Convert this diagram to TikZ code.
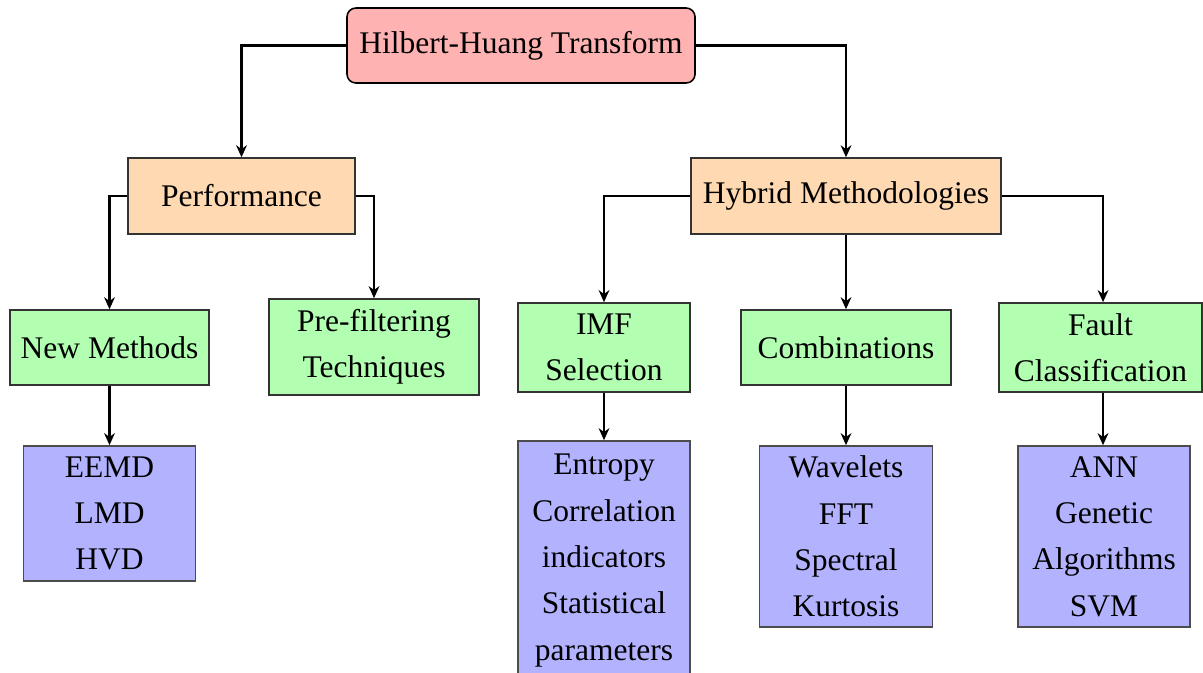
\documentclass[tikz,border=0pt]{standalone}
\usepackage{fontspec}
\setmainfont{Liberation Serif}
\usetikzlibrary{arrows.meta}

\begin{document}
\begin{tikzpicture}[
    x=0.3175pt, y=-0.3175pt,
    every node/.style={font=\fontsize{10}{14.7}\selectfont, inner sep=0pt, align=center},
    box/.style={draw=black!80, line width=0.5pt},
    rootbox/.style={box, draw=black, fill=red!30, rounded corners=2.8pt},
    midbox/.style={box, fill=orange!30},
    leafbox/.style={box, fill=green!30},
    listbox/.style={box, draw=black!70, fill=blue!30},
    link/.style={line width=0.75pt, -{Stealth[length=3.8pt, width=3.4pt, inset=1.2pt]}}
]
\useasboundingbox (0,0) rectangle (1203,672);

% top level
\node[rootbox, minimum width=110.5pt, minimum height=23.8pt] (hht) at (521,45.5) {Hilbert-Huang Transform};

% second level
\node[midbox, minimum width=72.1pt, minimum height=24.1pt] (perf) at (241.5,196) {Performance};
\node[midbox, minimum width=98.4pt, minimum height=24.1pt] (hyb) at (846,196) {Hybrid Methodologies};

% third level
\node[leafbox, minimum width=63.2pt, minimum height=23.8pt] (newm) at (109.5,347.5) {New Methods};
\node[leafbox, minimum width=66.7pt, minimum height=30.5pt] (pre) at (374,347) {Pre-filtering\\Techniques};
\node[leafbox, minimum width=54.6pt, minimum height=28.3pt] (imf) at (604,347.5) {IMF\\Selection};
\node[leafbox, minimum width=66.7pt, minimum height=23.8pt] (comb) at (846,347.5) {Combinations};
\node[leafbox, minimum width=64.5pt, minimum height=28.3pt] (fault) at (1100.5,347.5) {Fault\\Classification};

% lists
\node[listbox, minimum width=54.6pt, minimum height=42.9pt] (emd) at (109.5,513.5) {EEMD\\LMD\\HVD};
\node[listbox, minimum width=54.6pt, minimum height=75.9pt] (ent) at (604,560.5) {Entropy\\Correlation\\indicators\\Statistical\\parameters};
\node[listbox, minimum width=54.9pt, minimum height=57.5pt] (wav) at (846,536.5) {Wavelets\\FFT\\Spectral\\Kurtosis};
\node[listbox, minimum width=54.6pt, minimum height=57.5pt] (ann) at (1104,536.5) {ANN\\Genetic\\Algorithms\\SVM};

% connectors
\draw[link] (hht.west) -| (perf.north);
\draw[link] (hht.east) -| (hyb.north);
\draw[link] (perf.west) -| (newm.north);
\draw[link] (perf.east) -| (pre.north);
\draw[link] (hyb.west) -| (imf.north);
\draw[link] (hyb.south) -- (comb.north);
\draw[link] (hyb.east) -| ([xshift=0.8pt]fault.north);
\draw[link] (newm.south) -- (emd.north);
\draw[link] (imf.south) -- (ent.north);
\draw[link] (comb.south) -- (wav.north);
\draw[link] ([xshift=0.8pt]fault.south) -- ([xshift=0.8pt]fault.south |- ann.north);
\end{tikzpicture}
\end{document}
